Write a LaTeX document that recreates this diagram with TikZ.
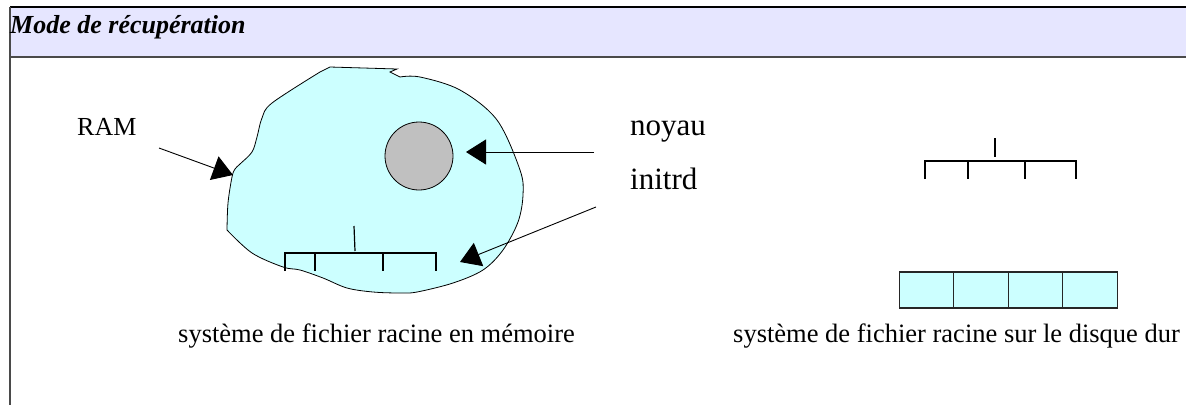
\documentclass[tikz,border=0pt]{standalone}
\usepackage{fontspec}
\setmainfont{Liberation Serif}
\usetikzlibrary{arrows.meta}

\definecolor{headfill}{HTML}{E6E6FF}
\definecolor{memfill}{HTML}{CCFFFF}
\definecolor{kernfill}{HTML}{C0C0C0}
\definecolor{rulegray}{HTML}{4A4A4A}

\tikzset{
  pointer/.style={draw=black, line width=0.9pt,
    -{Triangle[length=20pt,width=25pt]}},
  treeline/.style={draw=black, line width=1.2pt},
  diskcell/.style={draw=black!85, line width=1.4pt, fill=memfill,
    minimum width=54.5pt, minimum height=36pt, inner sep=0pt},
  lbl/.style={inner sep=0pt, anchor=base west, font=\fontsize{26}{30}\selectfont},
  biglbl/.style={inner sep=0pt, anchor=base west, font=\fontsize{31}{36}\selectfont},
}

\begin{document}
\begin{tikzpicture}[x=1pt, y=-1pt]
\useasboundingbox (0,0) rectangle (1186,405);

% title band
\fill[headfill] (10,7) rectangle (1186,57);
\draw[black, line width=1.5pt] (10,7) -- (1186,7);
\draw[rulegray, line width=1.5pt] (10,57) -- (1186,57);
\draw[rulegray, line width=1.5pt] (10,7) -- (10,405);
\node[lbl, font=\fontsize{26}{30}\selectfont\bfseries\itshape] (title) at (10,33) {Mode de récupération};

% memory area
\draw[fill=memfill, draw=black, line width=0.8pt]
  (330,67) -- (397,69) -- (390,72) --
  plot[smooth, tension=0.55] coordinates {
    (400,77) (420,77) (460,90) (497,120) (520,170) (523,195) (518,222)
    (503,250) (483,270) (453,283) (417,292) (400,293) (373,292) (347,288)
    (323,278) (300,270) (283,267) (252,253) (227,230)}
  -- plot[smooth, tension=0.55] coordinates {
    (227,230) (228,203) (232,177) (235,169) (240,164) (252,152)
    (257,137) (262,118) (272,103) (320,72)}
  -- cycle;

% kernel image
\node[circle, draw=black, line width=0.8pt, fill=kernfill,
      minimum size=68pt, inner sep=0pt] (kern) at (419,156) {};

% root file system tree in memory
\coordinate (mtop) at (354,226);
\coordinate (mjoin) at (355,251);
\draw[treeline] (mtop) -- (mjoin);
\draw[treeline] (285,271) -- (285,253) -- (436,253) -- (436,271);
\draw[treeline] (315,253) -- (315,271);
\draw[treeline] (383,253) -- (383,271);
\coordinate (mtree) at (460,262);

% labels
\node[lbl] (ram) at (77,135) {RAM};
\node[biglbl] (noyau) at (630,135) {noyau};
\node[biglbl] (initrd) at (630,189) {initrd};

% pointers
\coordinate (ramfrom) at (159,148);
\coordinate (ramto) at (233,175);
\coordinate (noyfrom) at (594,152);
\coordinate (kernhit) at (466,152);
\coordinate (initfrom) at (596,207);
\draw[pointer] (ramfrom) -- (ramto);
\draw[pointer] (noyfrom) -- (kernhit);
\draw[pointer] (initfrom) -- (mtree);

% root file system tree on disk
\draw[treeline] (995,138) -- (995,157);
\draw[treeline] (925,179) -- (925,161) -- (1076,161) -- (1076,179);
\draw[treeline] (968,161) -- (968,179);
\draw[treeline] (1025,161) -- (1025,179);

% disk blocks
\node[diskcell] (d1) at (926.5,290) {};
\node[diskcell] (d2) at (981,290) {};
\node[diskcell] (d3) at (1035.5,290) {};
\node[diskcell] (d4) at (1090,290) {};

% captions
\node[lbl, font=\fontsize{26.5}{30}\selectfont] (capmem) at (178,342) {système de fichier racine en mémoire};
\node[lbl, font=\fontsize{26.5}{30}\selectfont] (capdisk) at (733,342) {système de fichier racine sur le disque dur};
\end{tikzpicture}
\end{document}
